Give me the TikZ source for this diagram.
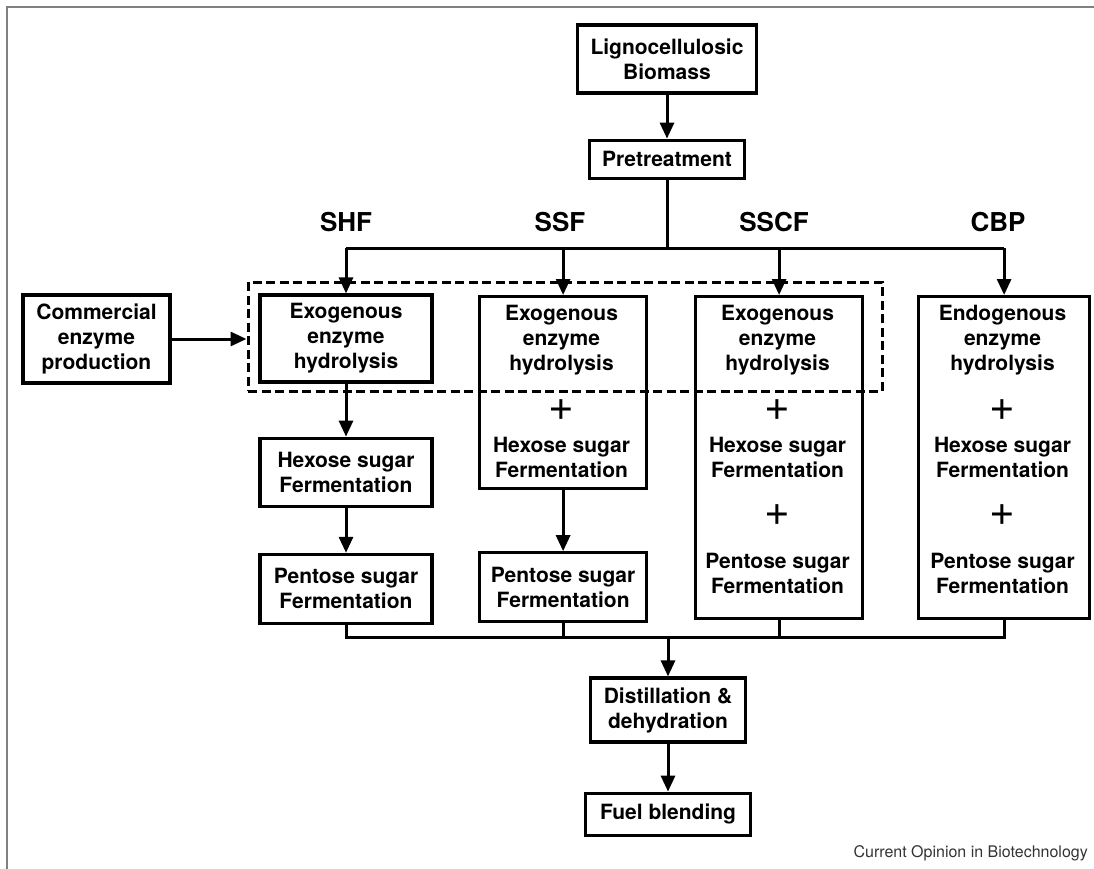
\documentclass[tikz,border=0pt]{standalone}
\usepackage{fontspec}
\setmainfont{TeX Gyre Heros}
\usetikzlibrary{arrows.meta, positioning}

\begin{document}
\begin{tikzpicture}[
        x=1pt, y=-1pt,
        >={Triangle[length=16pt,width=14pt]},
        box/.style={draw, line width=3.2pt, align=center, inner sep=0pt, font=\bfseries\fontsize{21}{25}\selectfont},
        tallbox/.style={draw, line width=3.2pt, inner sep=0pt},
        txt/.style={align=center, inner sep=0pt, font=\bfseries\fontsize{21}{25}\selectfont},
        plus/.style={inner sep=0pt, font=\fontsize{44}{44}\selectfont},
        tag/.style={font=\bfseries\fontsize{26}{30}\selectfont},
        flow/.style={->, line width=3pt},
        bus/.style={line width=3pt},
        group/.style={draw, line width=3pt, dash pattern=on 9pt off 4.5pt, inner sep=0pt}
    ]
        \useasboundingbox (0,0) rectangle (1094,869);
        \draw[gray, line width=1.4pt] (7,869) -- (7,7) -- (1094,7);

        % feedstock and pretreatment
        \node[box, minimum width=179, minimum height=68] (bio) at (667,59) {Lignocellulosic\\Biomass};
        \node[box, minimum width=155, minimum height=38, below=44pt of bio] (pre) {Pretreatment};

        % process columns
        \node[box, minimum width=147, minimum height=88] (comm) at (96.5,339) {Commercial\\enzyme\\production};
        \node[box, minimum width=172, minimum height=87] (shfhyd) at (346,338.5) {Exogenous\\enzyme\\hydrolysis};
        \node[box, minimum width=172, minimum height=68, below=53pt of shfhyd] (shfhex) {Hexose sugar\\Fermentation};
        \node[box, minimum width=172, minimum height=69, below=45pt of shfhex] (shfpen) {Pentose sugar\\Fermentation};

        \node[tallbox, minimum width=167, minimum height=192, anchor=north west] (ssfall) at (478,295) {};
        \node[box, minimum width=167, minimum height=69, below=61pt of ssfall] (ssfpen) {Pentose sugar\\Fermentation};
        \node[tallbox, minimum width=167, minimum height=322, anchor=north west] (sscfall) at (694,295) {};
        \node[tallbox, minimum width=171, minimum height=322, anchor=north west] (cbpall) at (917,295) {};

        \node[txt] (ssfhyd) at (561.5,340) {Exogenous\\enzyme\\hydrolysis};
        \node[plus] (ssfplus) at (561.5,410) {+};
        \node[txt] (ssfhex) at (561.5,457) {Hexose sugar\\Fermentation};

        \node[txt] (sscfhyd) at (777.5,340) {Exogenous\\enzyme\\hydrolysis};
        \node[plus] (sscfplusa) at (777.5,410) {+};
        \node[txt] (sscfhex) at (777.5,457) {Hexose sugar\\Fermentation};
        \node[plus] (sscfplusb) at (777.5,515) {+};
        \node[txt] (sscfpen) at (777.5,573) {Pentose sugar\\Fermentation};

        \node[txt] (cbphyd) at (1002.5,340) {Endogenous\\enzyme\\hydrolysis};
        \node[plus] (cbpplusa) at (1002.5,410) {+};
        \node[txt] (cbphex) at (1002.5,457) {Hexose sugar\\Fermentation};
        \node[plus] (cbpplusb) at (1002.5,515) {+};
        \node[txt] (cbppen) at (1002.5,573) {Pentose sugar\\Fermentation};

        \node[group, minimum width=634, minimum height=109] (exogroup) at (565,336.5) {};

        \node[tag] (shflab) at (346,222) {SHF};
        \node[tag] (ssflab) at (560,222) {SSF};
        \node[tag] (sscflab) at (774,222) {SSCF};
        \node[tag] (cbplab) at (998,222) {CBP};

        % product recovery
        \node[box, minimum width=155, minimum height=64] (dist) at (668,710) {Distillation \&\\dehydration};
        \node[box, minimum width=165, minimum height=42, below=48pt of dist] (fuel) {Fuel blending};

        \node[anchor=east, inner sep=0pt, text=black!80, font=\fontsize{16}{18}\selectfont] (credit) at (1088,853) {Current Opinion in Biotechnology};

        \coordinate (split) at (667,248);
        \coordinate (merge) at (668,637);

        \draw[flow] (bio) -- (pre);
        \draw[bus] (pre) -- (split);
        \draw[bus] (shfhyd.north |- split) -- (cbpall.north |- split);
        \foreach \col in {shfhyd, ssfall, sscfall, cbpall}
            \draw[flow] (\col.north |- split) -- (\col.north);
        \draw[flow] (comm.east) -- (comm.east -| exogroup.west);
        \draw[flow] (shfhyd) -- (shfhex);
        \draw[flow] (shfhex) -- (shfpen);
        \draw[flow] (ssfall) -- (ssfpen);

        \draw[bus] (shfpen.south) -- (shfpen.south |- merge) -- (cbpall.south |- merge) -- (cbpall.south);
        \draw[bus] (ssfpen.south) -- (ssfpen.south |- merge);
        \draw[bus] (sscfall.south) -- (sscfall.south |- merge);
        \draw[flow] (merge) -- (dist);
        \draw[flow] (dist) -- (fuel);
    \end{tikzpicture}
\end{document}
